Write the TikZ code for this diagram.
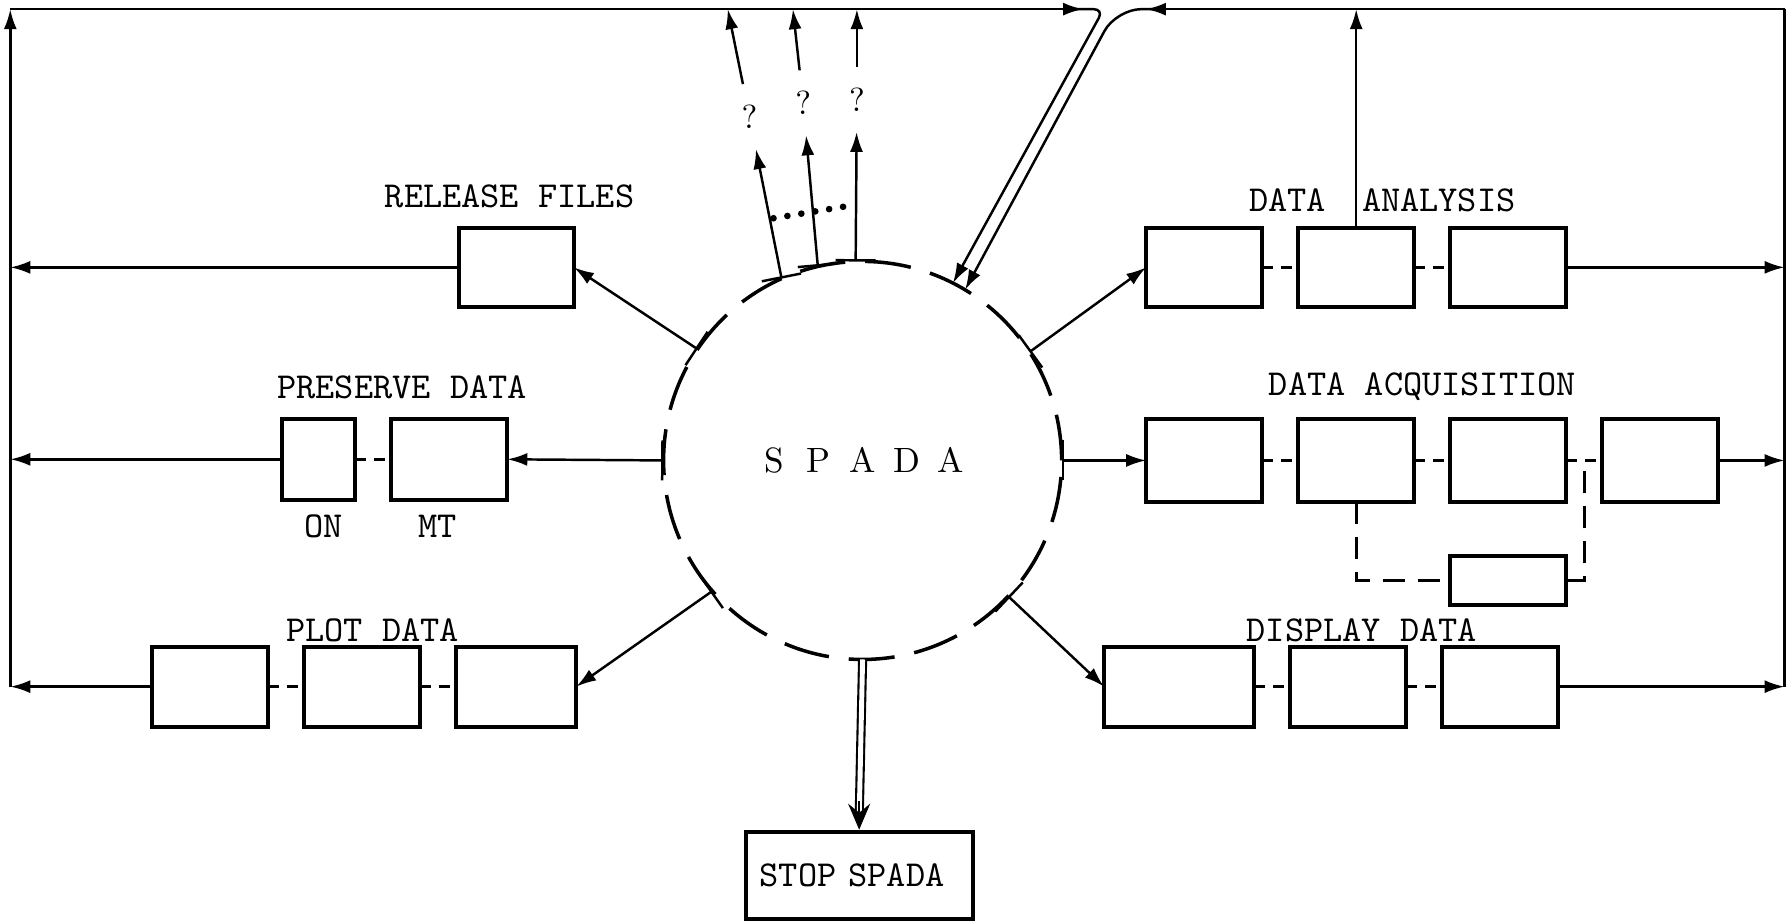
\documentclass[tikz,border=0pt]{standalone}
\usepackage{fontspec}
\usetikzlibrary{arrows.meta, positioning, calc}
\tikzset{blk/.style={draw, line width=1.1pt, minimum width=11.6mm, minimum height=8mm, inner sep=0pt, outer sep=0pt}}
\tikzset{tag/.style={font=\ttfamily\fontsize{10.4}{12}\selectfont, inner sep=0pt}}
\tikzset{link/.style={line width=1pt, dash pattern=on 1.1mm off 0.8mm}}
\tikzset{detour/.style={line width=0.9pt, dash pattern=on 2.2mm off 1.3mm}}
\tikzset{ask/.style={font=\fontsize{9.5}{11}\selectfont, inner xsep=0.6mm, inner ysep=2mm}}
\tikzset{hub/.style={circle, draw, line width=1pt, dash pattern=on 4.6mm off 2mm, minimum size=39.8mm, inner sep=0pt, outer sep=0pt}}
\tikzset{feed/.style={line width=0.7pt, -{Latex[length=2mm, width=1.3mm]}}}
\tikzset{tee/.style={line width=0.7pt, {Bar[width=4mm]}-{Latex[length=2mm, width=1.3mm]}}}

\begin{document}
\begin{tikzpicture}[x=0.11425mm, y=-0.11425mm, node distance=3.6mm]
    \useasboundingbox (0,0) rectangle (1565,806);
    % centre
    \node[hub] (spada) at (755,403) {\fontsize{10}{12}\selectfont\makebox[4.4mm]{S}\makebox[4.4mm]{P}\makebox[4.4mm]{A}\makebox[4.4mm]{D}\makebox[4.4mm]{A}};
    \coordinate (lbus) at (9,8);
    \coordinate (rbus) at (1562,8);

    % left side
    \node[blk, minimum width=11.5mm, minimum height=7.9mm] (rel) at (452,234) {};
    \node[tag] (reltag) at (446,172) {RELEASE FILES};
    \node[blk, minimum width=7.3mm, minimum height=8.1mm] (on) at (279,402) {};
    \node[blk, minimum height=8.1mm] (mt) [right=of on] {};
    \node[tag] (pretag) at (352,339) {PRESERVE DATA};
    \node[tag] (ontag) at (283,461) {ON};
    \node[tag] (mttag) at (383,461) {MT};
    \node[blk] (p1) at (184,601) {};
    \node[blk] (p2) [right=of p1] {};
    \node[blk, minimum width=12mm] (p3) [right=of p2] {};
    \node[tag] (plottag) at (326,552) {PLOT DATA};

    % right side
    \node[blk, minimum height=7.9mm] (a1) at (1054,234) {};
    \node[blk, minimum height=7.9mm] (a2) [right=of a1] {};
    \node[blk, minimum height=7.9mm] (a3) [right=of a2] {};
    \node[tag] (anatag) at (1210,175) {DATA\hspace{3.6mm}ANALYSIS};
    \node[blk, minimum height=8.3mm] (q1) at (1054,403) {};
    \node[blk, minimum height=8.3mm] (q2) [right=of q1] {};
    \node[blk, minimum height=8.3mm] (q3) [right=of q2] {};
    \node[blk, minimum height=8.3mm] (q4) [right=of q3] {};
    \node[blk, minimum height=4.9mm] (q5) [below=5.4mm of q3] {};
    \node[tag] (acqtag) at (1245,338) {DATA ACQUISITION};
    \node[blk, minimum width=15mm] (d1) at (1032,601) {};
    \node[blk] (d2) [right=of d1] {};
    \node[blk] (d3) [right=of d2] {};
    \node[tag] (distag) at (1192,552) {DISPLAY DATA};

    % bottom
    \node[draw, line width=1.1pt, text width=19.9mm, align=left, inner xsep=1.4mm, inner ysep=0pt, minimum height=8.7mm, font=\ttfamily\fontsize{10.4}{12}\selectfont] (stop) at (752,766) {STOP SPADA};

    % dashed links
    \draw[link] (on.east) -- (mt.west);
    \draw[link] (p1.east) -- (p2.west);
    \draw[link] (p2.east) -- (p3.west);
    \draw[link] (a1.east) -- (a2.west);
    \draw[link] (a2.east) -- (a3.west);
    \draw[link] (q1.east) -- (q2.west);
    \draw[link] (q2.east) -- (q3.west);
    \draw[link] (q3.east) -- (q4.west);
    \draw[link] (d1.east) -- (d2.west);
    \draw[link] (d2.east) -- (d3.west);
    \draw[detour] (q2.south) |- (q5.west);
    \draw[detour] (q5.east) -| ($(q3.east)!0.5!(q4.west)$);

    % spokes
    \draw[tee] (spada.146) -- (rel.east);
    \draw[tee] (spada.180) -- (mt.east);
    \draw[tee] (spada.221) -- (p3.east);
    \draw[tee] (spada.33) -- (a1.west);
    \draw[tee] (spada.0) -- (q1.west);
    \draw[tee] (spada.-43) -- (d1.west);
    \draw[line width=0.6pt, double distance=1.4pt] (spada.270) -- ($(stop.north)+(0,-10)$);
    \draw[line width=0.6pt, -{Stealth[length=2.6mm, width=2.2mm, inset=0.9mm]}] ($(stop.north)+(0,-25)$) -- (stop.north);

    % exits with ?
    \node[ask] (ask1) at (656,102) {?};
    \node[ask] (ask2) at (703,90) {?};
    \node[ask] (ask3) at (750,87) {?};
    \coordinate (top1) at (637,8);
    \coordinate (top2) at (694,8);
    \coordinate (top3) at (750,8);
    \draw[tee] (spada.114) -- (ask1);
    \draw[tee] (spada.103) -- (ask2);
    \draw[tee] (spada.92) -- (ask3);
    \draw[feed] (ask1) -- (top1);
    \draw[feed] (ask2) -- (top2);
    \draw[feed] (ask3) -- (top3);
    \draw[line width=1.9pt, line cap=round, dash pattern=on 0pt off 1.41mm] (677,191) -- (738,181);

    % return buses
    \draw[feed] (rel.west) -- (rel.west -| lbus);
    \draw[feed] (on.west) -- (on.west -| lbus);
    \draw[feed] (p1.west) -- (p1.west -| lbus);
    \draw[feed] (lbus |- p1.west) -- (lbus);
    \draw[feed] (lbus) -- (948,8);
    \draw[line width=0.7pt, rounded corners=1mm, -{Latex[length=2mm, width=1.3mm]}] (940,8) -- (966,8) -- (spada.63);
    \draw[feed] (a3.east) -- (a3.east -| rbus);
    \draw[feed] (q4.east) -- (q4.east -| rbus);
    \draw[feed] (d3.east) -- (d3.east -| rbus);
    \draw[line width=0.7pt] (rbus |- d3.east) -- (rbus);
    \draw[feed] (rbus) -- (1003,8);
    \draw[line width=0.7pt, rounded corners=2.5mm, -{Latex[length=2mm, width=1.3mm]}] (1010,8) -- (977,8) -- (spada.59);
    \draw[feed] (a2.north) -- (a2.north |- rbus);
\end{tikzpicture}
\end{document}
